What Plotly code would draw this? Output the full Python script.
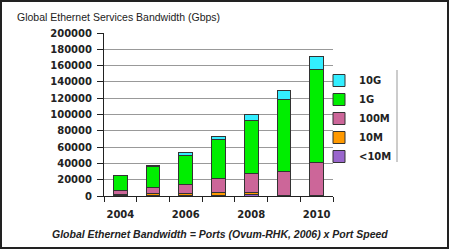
import plotly.graph_objects as go

years = ["2004", "2005", "2006", "2007", "2008", "2009", "2010"]
year_labels = ["2004", "", "2006", "", "2008", "", "2010"]
series_names = ["<10M", "10M", "100M", "1G", "10G"]
lt10m = [500, 500, 500, 800, 1500, 300, 300]
m10 = [1000, 2500, 2500, 3300, 3000, 500, 500]
m100 = [5500, 7800, 11500, 17200, 22700, 28700, 40000]
g1 = [18000, 25700, 35700, 48000, 65600, 89300, 115000]
g10 = [500, 500, 3300, 4100, 7000, 10400, 15700]
colors = ["#9966CC", "#FF9900", "#CC6699", "#00EE00", "#33EEFF"]

fig = go.Figure()
for name, vals, col in zip(series_names, [lt10m, m10, m100, g1, g10], colors):
    fig.add_trace(go.Bar(
        x=years, y=vals, name=name, width=0.42,
        marker=dict(color=col, line=dict(color="#333333", width=1)),
    ))

tick_font = dict(family="DejaVu Sans", size=10, color="#222222", weight="bold")

fig.update_layout(
    width=450, height=250,
    margin=dict(l=104, r=117, t=33, b=54),
    paper_bgcolor="white", plot_bgcolor="white",
    barmode="stack",
    showlegend=True,
    legend=dict(
        traceorder="reversed",
        x=(319 - 104) / 229, xanchor="left", y=(196 - 66) / 163, yanchor="top",
        font=tick_font,
        bgcolor="rgba(0,0,0,0)",
        itemwidth=30,
    ),
    xaxis=dict(
        type="category",
        tickmode="array", tickvals=years, ticktext=year_labels,
        tickson="boundaries", tickangle=0,
        ticks="outside", ticklen=5, tickcolor="#222",
        showline=True, linecolor="#222", linewidth=1,
        showgrid=False,
        tickfont=tick_font, ticklabelstandoff=9,
        range=[-0.5, 6.5],
    ),
    yaxis=dict(
        range=[0, 200000], dtick=20000, tickformat="d",
        ticks="outside", ticklen=6, tickcolor="#222",
        showline=True, linecolor="#222", linewidth=1,
        showgrid=True, gridcolor="#999999", gridwidth=1,
        tickfont=tick_font, ticklabelstandoff=3,
        zeroline=False,
    ),
    annotations=[
        dict(text="Global Ethernet Services Bandwidth (Gbps)",
             xref="paper", yref="paper", x=(15 - 104) / 229, y=(196 - 17) / 163,
             xanchor="left", yanchor="middle", showarrow=False,
             font=dict(family="Liberation Sans", size=10.5, color="#222")),
        dict(text="<b><i>Global Ethernet Bandwidth = Ports (Ovum-RHK, 2006) x Port Speed</i></b>",
             xref="paper", yref="paper", x=(220 - 104) / 229, y=(196 - 234) / 163,
             xanchor="center", yanchor="middle", showarrow=False,
             font=dict(family="Liberation Sans", size=10.5, color="#222")),
    ],
    shapes=[
        dict(type="rect", xref="paper", yref="paper",
             x0=(1 - 104) / 229, x1=(448 - 104) / 229,
             y0=(196 - 248) / 163, y1=(196 - 1) / 163,
             line=dict(color="#222222", width=2)),
        dict(type="line", xref="paper", yref="paper",
             x0=(397 - 104) / 229, x1=(397 - 104) / 229,
             y0=(196 - 162) / 163, y1=(196 - 70) / 163,
             line=dict(color="#999999", width=1)),
    ],
)

fig.write_html("out.html")
